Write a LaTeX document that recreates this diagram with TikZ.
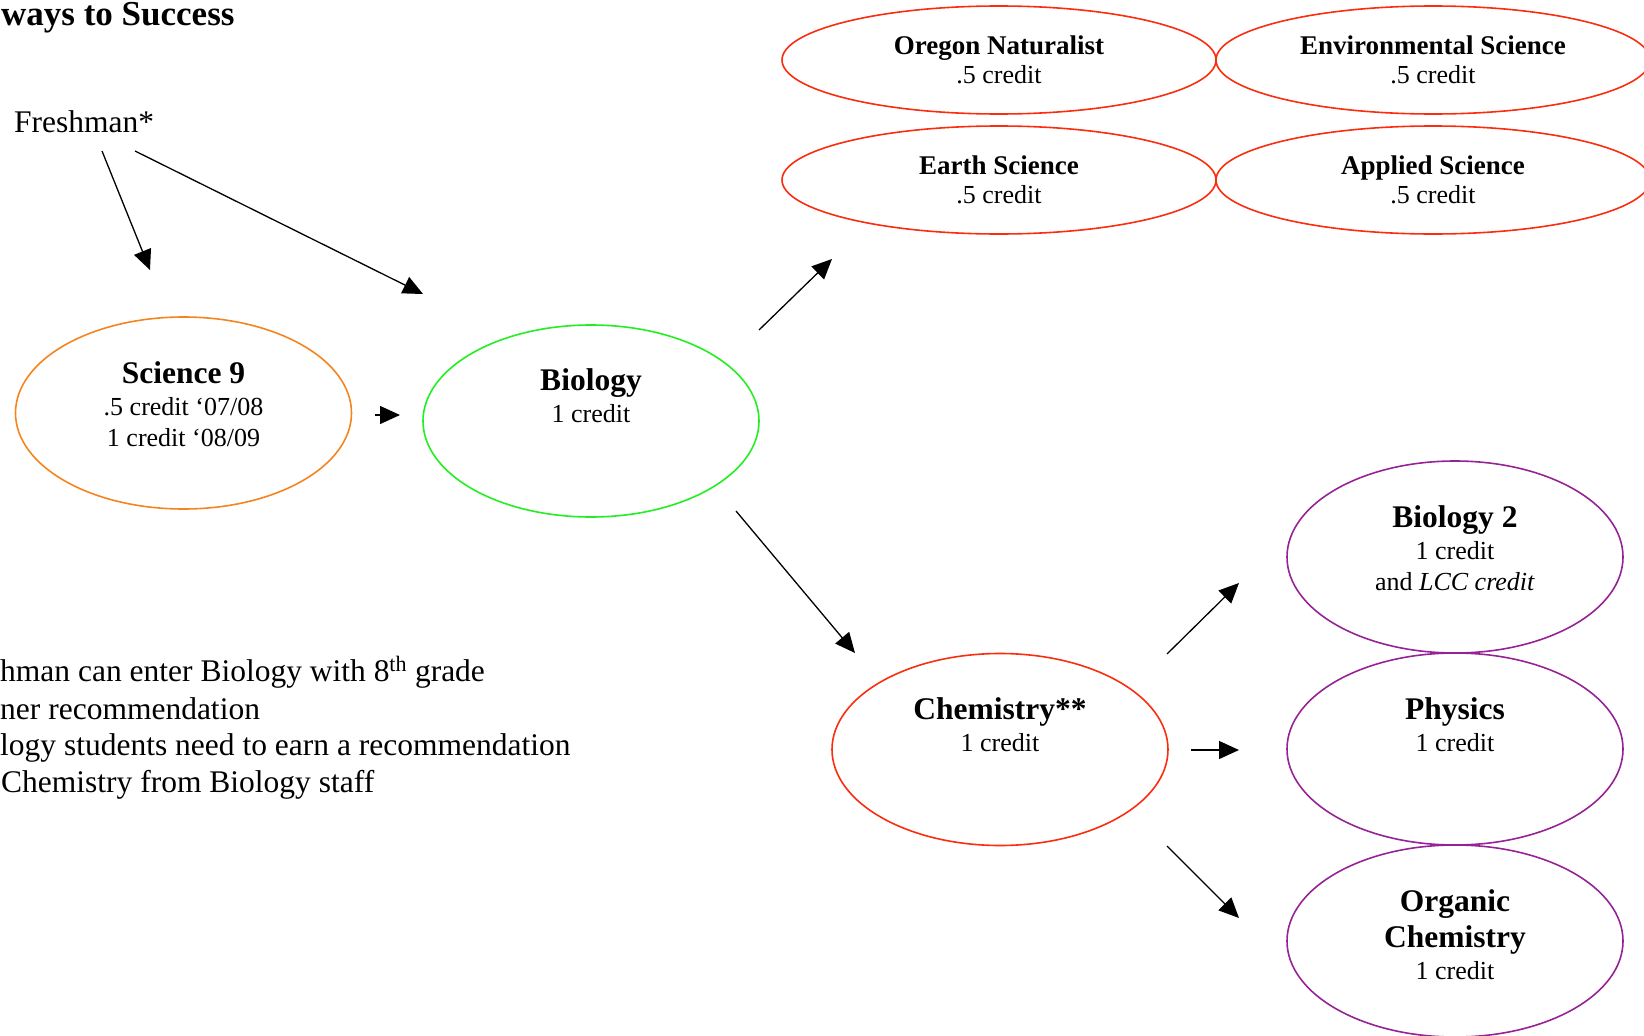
\documentclass[tikz,border=0pt]{standalone}
\usepackage{fontspec}
\setmainfont{Liberation Serif}
\usetikzlibrary{arrows.meta,shapes.geometric}
\definecolor{sciorange}{RGB}{246,132,30}
\definecolor{biogreen}{RGB}{34,238,34}
\definecolor{elecred}{RGB}{250,45,15}
\definecolor{advpurple}{RGB}{150,35,150}
\begin{document}
\begin{tikzpicture}[x=1pt,y=-1pt,
  bigcourse/.style={ellipse, draw=#1, line width=1.6pt, minimum width=336pt, minimum height=192pt, inner sep=0pt},
  smallcourse/.style={ellipse, draw=elecred, line width=1.6pt, minimum width=434pt, minimum height=108pt, inner sep=0pt},
  ttl/.style={anchor=base, inner sep=0pt, font=\fontsize{31.5}{36}\selectfont\bfseries},
  sttl/.style={anchor=base, inner sep=0pt, font=\fontsize{27}{31}\selectfont\bfseries},
  crd/.style={anchor=base, inner sep=0pt, font=\fontsize{26}{30}\selectfont},
  txt/.style={anchor=base west, inner sep=0pt, font=\fontsize{31.5}{37}\selectfont},
  arr/.style={line width=1.3pt, -{Triangle[length=20pt,width=18pt]}}
]
\useasboundingbox (0,0) rectangle (1644,1036);
\clip (0,0) rectangle (1644,1036);

% title and freshman
\node[anchor=base west, inner sep=0pt, font=\fontsize{35}{40}\selectfont\bfseries] (title) at (1,25) {ways to Success};
\node[txt] (fresh) at (14,132) {Freshman*};

% ellipses
\node[bigcourse=sciorange] (sci) at (183.5,413) {};
\node[bigcourse=biogreen] (bio) at (591,421) {};
\node[bigcourse=elecred] (chem) at (1000,749.5) {};
\node[bigcourse=advpurple] (bio2) at (1455,557) {};
\node[bigcourse=advpurple] (phys) at (1455,749) {};
\node[bigcourse=advpurple] (orgchem) at (1455,941) {};
\node[smallcourse] (oregon) at (999,60) {};
\node[smallcourse] (envsci) at (1433,60) {};
\node[smallcourse] (earth) at (999,180) {};
\node[smallcourse] (applied) at (1433,180) {};

% texts in ellipses
\node[ttl] (sciT) at (183.5,383) {Science 9};
\node[crd] (sciC1) at (183.5,415) {.5 credit ‘07/08};
\node[crd] (sciC2) at (183.5,446) {1 credit ‘08/09};
\node[ttl] (bioT) at (591,390) {Biology};
\node[crd] (bioC) at (591,422) {1 credit};
\node[ttl] (chemT) at (1000,719) {Chemistry**};
\node[crd] (chemC) at (1000,751) {1 credit};
\node[ttl] (bio2T) at (1455,527) {Biology 2};
\node[crd] (bio2C1) at (1455,559) {1 credit};
\node[crd] (bio2C2) at (1455,590) {and \textit{LCC credit}};
\node[ttl] (physT) at (1455,719) {Physics};
\node[crd] (physC) at (1455,751) {1 credit};
\node[ttl] (orgT1) at (1455,911) {Organic};
\node[ttl] (orgT2) at (1455,947) {Chemistry};
\node[crd] (orgC) at (1455,979) {1 credit};
\node[sttl] (oregonT) at (999,54) {Oregon Naturalist};
\node[crd] (oregonC) at (999,83) {.5 credit};
\node[sttl] (envT) at (1433,54) {Environmental Science};
\node[crd] (envC) at (1433,83) {.5 credit};
\node[sttl] (earthT) at (999,174) {Earth Science};
\node[crd] (earthC) at (999,203) {.5 credit};
\node[sttl] (appT) at (1433,174) {Applied Science};
\node[crd] (appC) at (1433,203) {.5 credit};

% notes
\node[txt] (note1) at (0,681) {hman can enter Biology with 8\textsuperscript{th} grade};
\node[txt] (note2) at (0,719) {ner recommendation};
\node[txt] (note3) at (0,755) {logy students need to earn a recommendation};
\node[txt] (note4) at (1,792) {Chemistry from Biology staff};

% arrow end points
\coordinate (a1s) at (102,151);  \coordinate (a1e) at (150,270);
\coordinate (a2s) at (135,151);  \coordinate (a2e) at (423,294);
\coordinate (a3s) at (375,415);  \coordinate (a3e) at (400,415);
\coordinate (a4s) at (759,330);  \coordinate (a4e) at (832,259);
\coordinate (a5s) at (736,511);  \coordinate (a5e) at (855,653);
\coordinate (a6s) at (1167,654); \coordinate (a6e) at (1239,583);
\coordinate (a7s) at (1191,750); \coordinate (a7e) at (1239,750);
\coordinate (a8s) at (1167,846); \coordinate (a8e) at (1239,918);

\draw[arr] (a1s) -- (a1e);
\draw[arr] (a2s) -- (a2e);
\draw[arr] (a3s) -- (a3e);
\draw[arr] (a4s) -- (a4e);
\draw[arr] (a5s) -- (a5e);
\draw[arr] (a6s) -- (a6e);
\draw[arr] (a7s) -- (a7e);
\draw[arr] (a8s) -- (a8e);
\end{tikzpicture}
\end{document}
